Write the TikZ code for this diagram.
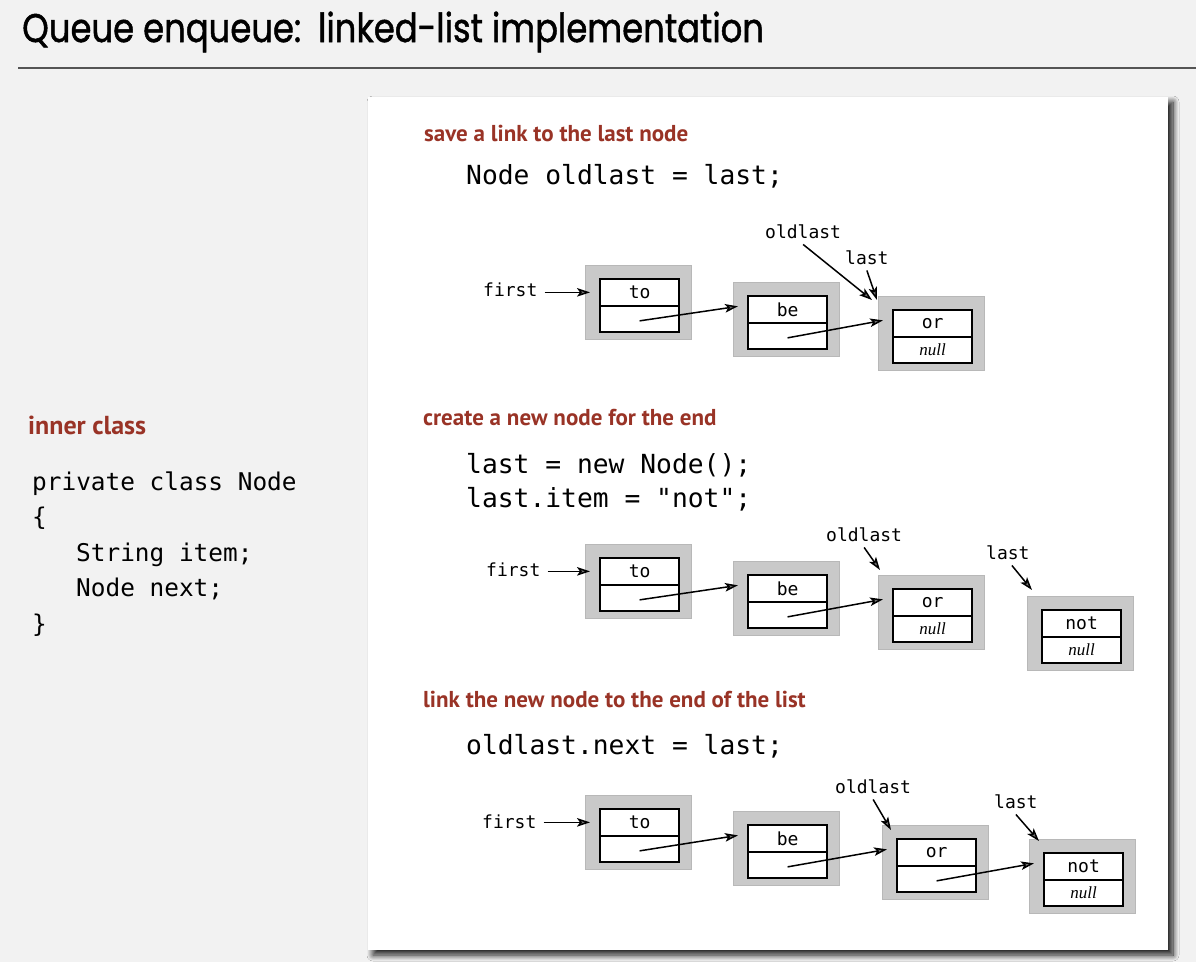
\documentclass[tikz,border=0pt]{standalone}
\usepackage{graphicx}
\usepackage{fontspec}
\setmainfont{Liberation Serif}
\newfontfamily\titlefont{Poppins}[FakeBold=1.3]
\newfontfamily\headfont{PT Sans}
\newfontfamily\codefont{DejaVu Sans Mono}
\usetikzlibrary{arrows.meta,calc,shadows.blur}
\definecolor{bg}{HTML}{F2F2F2}
\definecolor{headred}{RGB}{153,51,38}
\definecolor{boxgray}{HTML}{C9C9C9}
\definecolor{boxedge}{HTML}{B8B8B8}
\definecolor{rulegray}{HTML}{555555}
\tikzset{
  graybox/.style={rectangle, fill=boxgray, draw=boxedge, line width=1.2pt, minimum width=106pt, minimum height=74pt, inner sep=0pt, anchor=north west},
  cellbox/.style={rectangle, draw=black, line width=2.2pt, fill=white, minimum width=79pt, minimum height=26.5pt, inner sep=0pt, anchor=north west, font=\codefont\fontsize{18}{20}\selectfont},
  ptr/.style={line width=1.5pt, -{Stealth[length=13pt,width=8.5pt,inset=3pt]}},
  lbl/.style={inner sep=0pt, anchor=base west, font=\codefont\fontsize{18}{20}\selectfont},
  heading/.style={inner sep=0pt, anchor=base west, text=headred, font=\headfont\bfseries\fontsize{23}{26}\selectfont},
  code/.style={inner sep=0pt, anchor=base west, font=\codefont\fontsize{26.3}{30}\selectfont},
  lcode/.style={inner sep=0pt, anchor=base west, font=\codefont\fontsize{24.4}{30}\selectfont},
}
\newcommand{\nullt}{{\fontsize{17}{19}\selectfont\rmfamily\itshape null}}
\newcommand{\llnode}[5]{%
  \node[graybox] (#1-g) at (#2,#3) {};
  \node[cellbox] (#1-i) at (#2+14,#3+13) {#4};
  \node[cellbox] (#1-n) at (#2+14,#3+39.5) {#5};
}
\newcommand{\nextptr}[2]{\draw[ptr] ([yshift=-2pt]#1-n.center) -- ([xshift=-9pt,yshift=3pt]#2-i.west);}
\newcommand{\firstptr}[2]{\draw[ptr] ($(#1.east |- #2-i.west)+(7,0)$) -- ([xshift=-9pt]#2-i.west);}
\begin{document}
\begin{tikzpicture}[x=1pt,y=-1pt]
\useasboundingbox (0,0) rectangle (1196,962);
\fill[bg] (0,0) rectangle (1196,962);
% title
\node[inner sep=0pt, anchor=base west, font=\titlefont\fontsize{40}{44}\selectfont] (title) at (22,42) {\scalebox{0.846}[1]{Queue enqueue:\hspace{0.5em}linked-list implementation}};
\draw[rulegray, line width=1.5pt] (18,68) -- (1196,68);
% panel
\fill[white, blur shadow={shadow xshift=5pt, shadow yshift=-5pt, shadow blur radius=6pt, shadow blur steps=12, shadow opacity=90}] (368,97) rectangle (1168,950);
% left side
\node[heading, font=\headfont\bfseries\fontsize{26}{29}\selectfont] (ic) at (28,434) {inner class};
\node[lcode] (l1) at (32,490) {private class Node};
\node[lcode] (l2) at (32,525.5) {\{};
\node[lcode] (l3) at (76,561) {String item;};
\node[lcode] (l4) at (76,596.5) {Node next;};
\node[lcode] (l5) at (32,632) {\}};
% panel texts
\node[heading] (h1) at (424,141) {save a link to the last node};
\node[code] (c1) at (466,184) {Node oldlast = last;};
\node[heading] (h2) at (423,425) {create a new node for the end};
\node[code] (c2) at (466,473) {last = new Node();};
\node[code] (c3) at (466,507) {last.item = "not";};
\node[heading] (h3) at (423,707) {link the new node to the end of the list};
\node[code] (c4) at (466,754) {oldlast.next = last;};
% diagram 1
\llnode{to1}{585}{265}{to}{}
\llnode{be1}{733}{282}{be}{}
\llnode{or1}{878}{296}{or}{\nullt}
\node[lbl] (f1) at (483,296) {first};
\node[lbl] (ol1) at (765,238) {oldlast};
\node[lbl] (la1) at (845,264) {last};
\firstptr{f1}{to1}
\nextptr{to1}{be1}
\nextptr{be1}{or1}
\draw[ptr] ([yshift=-6pt]ol1.south) -- ([shift={(-6,4)}]or1-g.north west);
\draw[ptr] ([yshift=-6pt]la1.south) -- ([shift={(-1,4)}]or1-g.north west);
% diagram 2
\llnode{to2}{585}{544}{to}{}
\llnode{be2}{733}{561}{be}{}
\llnode{or2}{878}{575}{or}{\nullt}
\llnode{not2}{1027}{596}{not}{\nullt}
\node[lbl] (f2) at (486,576) {first};
\node[lbl] (ol2) at (826,541) {oldlast};
\node[lbl] (la2) at (986,559) {last};
\firstptr{f2}{to2}
\nextptr{to2}{be2}
\nextptr{be2}{or2}
\draw[ptr] ([yshift=-6pt]ol2.south) -- ([shift={(2,-5)}]or2-g.north west);
\draw[ptr] ([shift={(4,6)}]la2.south) -- ([shift={(5,-6)}]not2-g.north west);
% diagram 3
\llnode{to3}{585}{795}{to}{}
\llnode{be3}{733}{811}{be}{}
\llnode{or3}{882}{825}{or}{}
\llnode{not3}{1029}{839}{not}{\nullt}
\node[lbl] (f3) at (482,828) {first};
\node[lbl] (ol3) at (835,793) {oldlast};
\node[lbl] (la3) at (994,808) {last};
\firstptr{f3}{to3}
\nextptr{to3}{be3}
\nextptr{be3}{or3}
\nextptr{or3}{not3}
\draw[ptr] ([yshift=-6pt]ol3.south) -- ([shift={(9,5)}]or3-g.north west);
\draw[ptr] ([yshift=-6pt]la3.south) -- ([shift={(10,2)}]not3-g.north west);
\end{tikzpicture}
\end{document}
